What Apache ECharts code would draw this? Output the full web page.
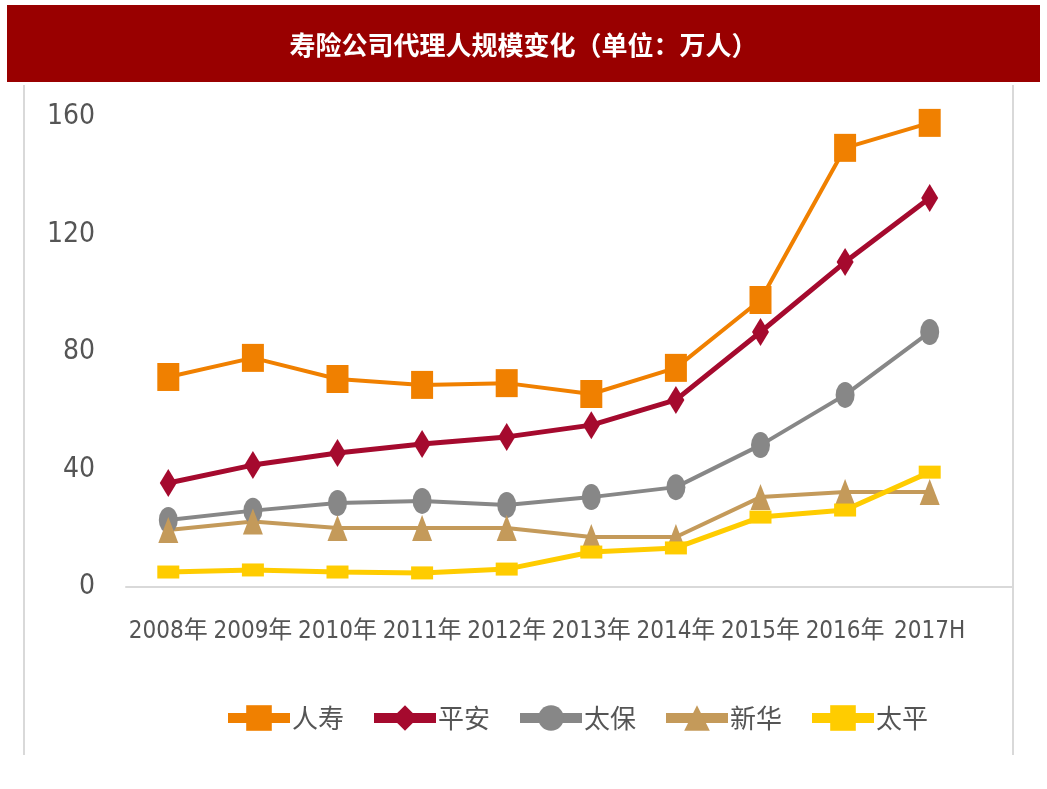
<!DOCTYPE html>
<html>
<head>
<meta charset="utf-8">
<script src="https://cdn.jsdelivr.net/npm/echarts@6/dist/echarts.min.js"></script>
<style>
html,body{margin:0;padding:0;background:#fff;}
#c{width:1047px;height:789px;}
</style>
</head>
<body>
<div id="c"></div>
<script>
const titleText = '寿险公司代理人规模变化（单位：万人）';
const categories = ['2008年','2009年','2010年','2011年','2012年','2013年','2014年','2015年','2016年','2017H'];
const renshou = [71.5, 78.0, 70.8, 68.8, 69.4, 65.7, 74.6, 97.7, 149.5, 158.0];
const pingan  = [35.4, 41.5, 45.6, 48.7, 51.1, 55.1, 63.7, 86.8, 110.6, 132.4];
const taibao  = [22.8, 26.0, 28.6, 29.3, 27.9, 30.6, 34.0, 48.3, 65.4, 86.8];
const xinhua  = [19.4, 22.3, 20.1, 20.1, 20.1, 17.0, 17.0, 30.6, 32.3, 32.3];
const taiping = [5.1, 5.8, 5.1, 4.8, 6.1, 11.9, 13.3, 23.8, 26.2, 39.1];
const yTicks = { min: 0, max: 160, interval: 40 };

const labelFont = "'Liberation Sans Narrow','DejaVu Sans Condensed','Noto Sans CJK SC',sans-serif";
const cjkFont = "'Noto Sans CJK SC','Liberation Sans Narrow',sans-serif";

const chart = echarts.init(document.getElementById('c'), null, {renderer:'canvas'});

function mkSeries(name, data, color, symbol, size, lw) {
  return {
    name: name, type: 'line', data: data,
    symbol: symbol, symbolSize: size, showSymbol: true,
    lineStyle: { color: color, width: lw },
    itemStyle: { color: color },
    emphasis: { disabled: true },
    animation: false
  };
}

const option = {
  animation: false,
  backgroundColor: '#ffffff',
  title: {
    text: titleText,
    left: 'center',
    top: 27,
    textStyle: { color: '#ffffff', fontSize: 26, fontWeight: 'bold', fontFamily: cjkFont }
  },
  graphic: [
    { type: 'rect', z: -1, shape: { x: 7, y: 5, width: 1033, height: 77 }, style: { fill: '#990000' } },
    { type: 'line', shape: { x1: 24, y1: 85, x2: 24, y2: 755 }, style: { stroke: '#d9d9d9', lineWidth: 2 } },
    { type: 'line', shape: { x1: 1013, y1: 85, x2: 1013, y2: 755 }, style: { stroke: '#d9d9d9', lineWidth: 2 } },
    { type: 'line', shape: { x1: 970, y1: 587, x2: 1013, y2: 587 }, style: { stroke: '#d9d9d9', lineWidth: 2 } }
  ],
  legend: {
    left: 218,
    top: 700,
    itemWidth: 62,
    itemHeight: 32,
    itemGap: 25,
    lineStyle: { width: 10 },
    textStyle: { color: '#555555', fontSize: 26, fontFamily: cjkFont, padding: [0,0,0,-3] },
    data: ['人寿','平安','太保','新华','太平']
  },
  grid: { left: 126, right: 75, top: 117, bottom: 202, containLabel: false },
  xAxis: {
    type: 'category',
    data: categories,
    boundaryGap: true,
    axisLine: { show: true, lineStyle: { color: '#d9d9d9', width: 2 } },
    axisTick: { show: false },
    axisLabel: { color: '#555555', fontSize: 24, fontFamily: labelFont, margin: 33, interval: 0 },
    splitLine: { show: false }
  },
  yAxis: {
    type: 'value',
    min: yTicks.min, max: yTicks.max, interval: yTicks.interval,
    axisLine: { show: false },
    axisTick: { show: false },
    splitLine: { show: false },
    axisLabel: { color: '#555555', fontSize: 28, fontFamily: labelFont, margin: 31 }
  },
  series: [
    mkSeries('人寿', renshou, '#F08000', 'rect', [22, 28], 4),
    mkSeries('平安', pingan, '#A50A2E', 'diamond', [17, 28], 5),
    mkSeries('太保', taibao, '#878787', 'circle', [19, 26], 4),
    mkSeries('新华', xinhua, '#C49A5A', 'triangle', [20, 26], 4),
    mkSeries('太平', taiping, '#FFCC00', 'rect', [22, 13], 5)
  ]
};
chart.setOption(option);
</script>
</body>
</html>
